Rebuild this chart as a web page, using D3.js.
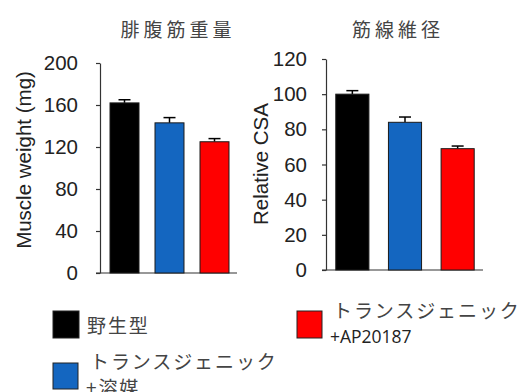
<!DOCTYPE html>
<html><head><meta charset="utf-8">
<script src="https://cdn.jsdelivr.net/npm/d3@7"></script>
<style>body{margin:0;background:#fff}svg{display:block}</style>
</head><body>
<script>
const categories = ["野生型", "トランスジェニック+溶媒", "トランスジェニック+AP20187"];
const colors = ["#000000", "#1466c0", "#ff0000"];
const muscleWeight = [162, 143, 125];
const muscleWeightErr = [3, 5, 3];
const relativeCSA = [100, 84, 69];
const relativeCSAErr = [2, 3, 1.5];
const weightTicks = [0, 40, 80, 120, 160, 200];
const csaTicks = [0, 20, 40, 60, 80, 100, 120];
const titles = ["腓腹筋重量", "筋線維径"];
const yLabels = ["Muscle weight (mg)", "Relative CSA"];

const W = 521, H = 392;
const svg = d3.select("body").append("svg").attr("width", W).attr("height", H);
const numFont = "'Liberation Sans', Arial, sans-serif";
const jpFont = "'Noto Sans CJK JP', sans-serif";

function panel(cfg) {
  const y = d3.scaleLinear().domain(cfg.domain).range([cfg.y0, cfg.y1]);
  const x = d3.scaleBand().domain(categories).range(cfg.xr)
    .paddingInner(cfg.pi).paddingOuter(cfg.po);
  const g = svg.append("g");
  g.append("line").attr("x1", cfg.axisX - 4).attr("x2", cfg.baseEnd)
    .attr("y1", y(0)).attr("y2", y(0)).attr("stroke", "#333").attr("stroke-width", 1.2);
  const ax = g.append("g").attr("transform", `translate(${cfg.axisX},0)`)
    .call(d3.axisLeft(y).tickValues(cfg.ticks).tickSize(4).tickSizeOuter(0).tickPadding(cfg.tp));
  ax.selectAll("path,line").attr("stroke", "#333").attr("stroke-width", 1.2);
  ax.selectAll("text").attr("font-family", numFont).attr("font-size", 20.5).attr("fill", "#222");
  const cap = 6;
  cfg.values.forEach((v, i) => {
    const cx = x(categories[i]) + x.bandwidth() / 2;
    const top = y(v + cfg.errs[i]);
    g.append("line").attr("x1", cx).attr("x2", cx).attr("y1", y(v)).attr("y2", top)
      .attr("stroke", "#000").attr("stroke-width", 1.5);
    g.append("line").attr("x1", cx - cap).attr("x2", cx + cap).attr("y1", top).attr("y2", top)
      .attr("stroke", "#000").attr("stroke-width", 1.5);
  });
  g.selectAll("rect.bar").data(cfg.values).join("rect")
    .attr("x", (d, i) => x(categories[i])).attr("width", x.bandwidth())
    .attr("y", d => y(d)).attr("height", d => y(0) - y(d))
    .attr("fill", (d, i) => colors[i]).attr("stroke", "#1a1a1a").attr("stroke-width", 1);
  g.append("text").attr("x", cfg.titleX).attr("y", 28.5).attr("text-anchor", "middle")
    .attr("dominant-baseline", "central").attr("font-family", jpFont).attr("font-size", 19)
    .attr("letter-spacing", 4).attr("fill", "#444").text(cfg.title);
  g.append("text").attr("transform", `translate(${cfg.labelX},${cfg.labelY}) rotate(-90)`)
    .attr("text-anchor", "middle").attr("font-family", numFont).attr("font-size", 20.5)
    .attr("fill", "#222").text(cfg.ylabel);
}

panel({domain: [0, 200], y0: 273, y1: 63, xr: [102, 237], pi: 0.356, po: 0.178,
  axisX: 100, baseEnd: 237, ticks: weightTicks, values: muscleWeight, errs: muscleWeightErr, tp: 18,
  title: titles[0], titleX: 178, ylabel: yLabels[0], labelX: 31, labelY: 160});
panel({domain: [0, 120], y0: 270, y1: 59, xr: [326, 484], pi: 0.371, po: 0.186,
  axisX: 326, baseEnd: 483, ticks: csaTicks, values: relativeCSA, errs: relativeCSAErr, tp: 15,
  title: titles[1], titleX: 398, ylabel: yLabels[1], labelX: 268, labelY: 164});

const leg = [
  {sx: 53, sy: 311, sw: 26, sh: 27, lines: [{t: "野生型", x: 87, y: 324, jp: true}]},
  {sx: 53, sy: 363, sw: 25, sh: 26, lines: [{t: "トランスジェニック", x: 90, y: 360, jp: true}, {t: "+溶媒", x: 86, y: 386, jp: true}]},
  {sx: 297, sy: 311, sw: 25, sh: 27, lines: [{t: "トランスジェニック", x: 333, y: 309, jp: true}, {t: "+AP20187", x: 330, y: 343, jp: false}]}
];
leg.forEach((l, i) => {
  svg.append("rect").attr("x", l.sx).attr("y", l.sy).attr("width", l.sw).attr("height", l.sh)
    .attr("fill", colors[i]).attr("stroke", "#222").attr("stroke-width", 1);
  l.lines.forEach(s => {
    const t = svg.append("text").attr("x", s.x).attr("y", s.y).attr("fill", "#333").text(s.t);
    if (s.jp) t.attr("font-family", jpFont).attr("font-size", 19).attr("letter-spacing", 1.9)
      .attr("dominant-baseline", "central").attr("fill", "#444");
    else t.attr("font-family", "'Open Sans', sans-serif").attr("font-size", 17.5).attr("fill", "#222");
  });
});
</script>
</body></html>
